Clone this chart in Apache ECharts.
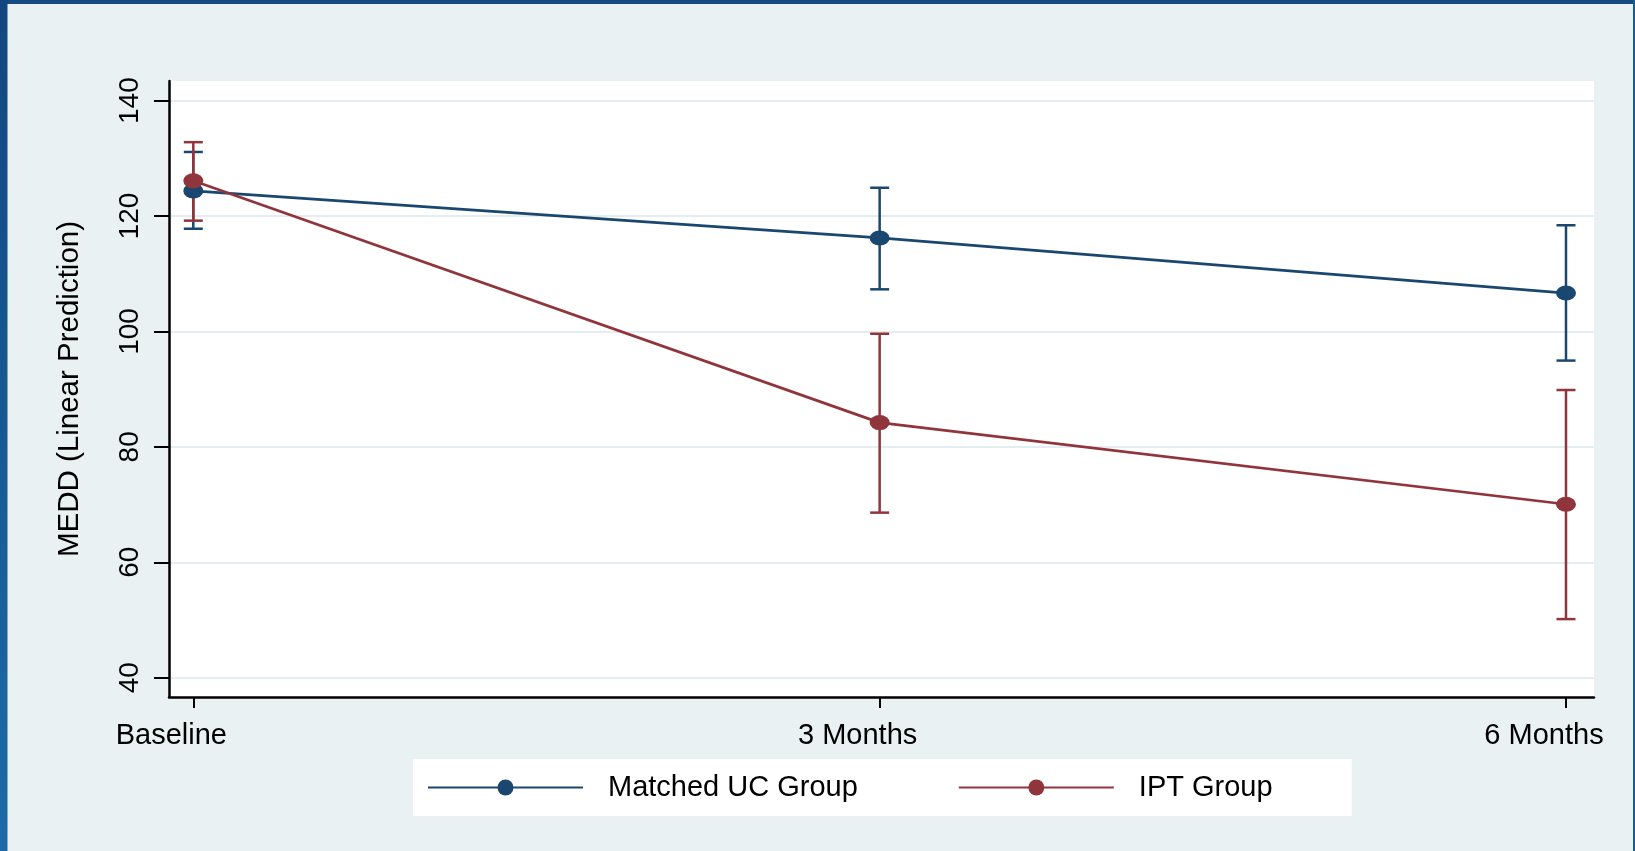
<!DOCTYPE html>
<html><head><meta charset="utf-8">
<script src="https://cdn.jsdelivr.net/npm/echarts@6/dist/echarts.min.js"></script>
<style>html,body{margin:0;padding:0;overflow:hidden;}#chart{width:1635px;height:851px;}</style>
</head><body><div id="chart"></div>
<script>
const categories = ['Baseline', '3 Months', '6 Months'];
const timePoints = [0, 1, 2];
const ucMean  = [124.35, 116.2, 106.65];
const ucLower = [117.8, 107.3, 94.95];
const ucUpper = [131.1, 124.9, 118.4];
const iptMean  = [126.1, 84.2, 70.05];
const iptLower = [119.2, 68.6, 50.15];
const iptUpper = [132.8, 99.6, 89.85];
const yTicks = [40, 60, 80, 100, 120, 140];
const seriesNames = ['Matched UC Group', 'IPT Group'];

const BLUE = '#1A476F', RED = '#90353B';
const FONT = 'Liberation Sans, Arial, Helvetica, sans-serif';

function errRender(color) {
  return function (params, api) {
    const x = api.value(0), lo = api.value(1), hi = api.value(2);
    const pLo = api.coord([x, lo]), pHi = api.coord([x, hi]);
    const hw = 9.5;
    const style = { stroke: color, lineWidth: 2.5, fill: null };
    return { type: 'group', children: [
      { type: 'line', shape: { x1: pLo[0], y1: pLo[1], x2: pHi[0], y2: pHi[1] }, style: style },
      { type: 'line', shape: { x1: pLo[0] - hw, y1: pLo[1], x2: pLo[0] + hw, y2: pLo[1] }, style: style },
      { type: 'line', shape: { x1: pHi[0] - hw, y1: pHi[1], x2: pHi[0] + hw, y2: pHi[1] }, style: style }
    ]};
  };
}

const chart = echarts.init(document.getElementById('chart'), null, { renderer: 'canvas' });
chart.setOption({
  backgroundColor: '#EAF1F3',
  animation: false,
  textStyle: { fontFamily: FONT },
  graphic: [
    { type: 'rect', shape: { x: 0, y: 0, width: 1635, height: 4 }, style: { fill: '#154A82' } },
    { type: 'rect', shape: { x: 0, y: 0, width: 7.5, height: 851 },
      style: { fill: new echarts.graphic.LinearGradient(0, 0, 0, 1, [
        { offset: 0, color: '#124680' }, { offset: 1, color: '#1C6BA8' }]) } },
    { type: 'rect', shape: { x: 1633, y: 0, width: 2, height: 851 }, style: { fill: '#1A5A96' } }
  ],
  grid: { left: 169, top: 81, right: 41, bottom: 154, show: true, backgroundColor: '#FFFFFF', borderWidth: 0 },
  legend: {
    data: seriesNames,
    left: 413, top: 759,
    backgroundColor: '#FFFFFF',
    padding: [14, 79, 14, 14],
    itemWidth: 155, itemHeight: 20,
    itemGap: 100,
    textStyle: { fontSize: 29, color: '#000', fontFamily: FONT, padding: [0, 0, 0, 20], lineHeight: 27 }
  },
  xAxis: {
    type: 'value', min: -0.0354, max: 2.0408,
    axisLine: { show: true, onZero: false, lineStyle: { color: '#000', width: 2.5 } },
    axisTick: { show: true, customValues: timePoints, length: 11, lineStyle: { color: '#000', width: 2 } },
    axisLabel: { customValues: timePoints, formatter: function (v) { return categories[timePoints.indexOf(v)]; },
      fontSize: 29, color: '#000', margin: 24, padding: [0, 44, 0, 0], fontFamily: FONT },
    splitLine: { show: false }
  },
  yAxis: {
    type: 'value', min: 36.65, max: 143.4,
    name: 'MEDD (Linear Prediction)', nameLocation: 'middle', nameGap: 84,
    nameTextStyle: { fontSize: 29.5, color: '#000', fontFamily: FONT },
    axisLine: { show: true, onZero: false, lineStyle: { color: '#000', width: 2.5 } },
    axisTick: { show: true, customValues: yTicks, length: 15, lineStyle: { color: '#000', width: 2 } },
    axisLabel: { customValues: yTicks, rotate: 90, fontSize: 28, color: '#000', margin: 25, fontFamily: FONT },
    splitLine: { show: true, lineStyle: { color: '#E4EDEF', width: 2 } }
  },
  series: [
    { type: 'custom', name: 'UC CI', renderItem: errRender(BLUE), encode: { x: 0, y: [1, 2] }, z: 2,
      data: timePoints.map(function (t, i) { return [t, ucLower[i], ucUpper[i]]; }) },
    { type: 'custom', name: 'IPT CI', renderItem: errRender(RED), encode: { x: 0, y: [1, 2] }, z: 2,
      data: timePoints.map(function (t, i) { return [t, iptLower[i], iptUpper[i]]; }) },
    { type: 'line', name: seriesNames[0], z: 3, symbol: 'circle', symbolSize: [20, 15],
      color: BLUE, lineStyle: { color: BLUE, width: 2.7 }, itemStyle: { color: BLUE },
      data: timePoints.map(function (t, i) { return [t, ucMean[i]]; }) },
    { type: 'line', name: seriesNames[1], z: 4, symbol: 'circle', symbolSize: [20, 15],
      color: RED, lineStyle: { color: RED, width: 2.7 }, itemStyle: { color: RED },
      data: timePoints.map(function (t, i) { return [t, iptMean[i]]; }) }
  ]
});
</script>
</body></html>
